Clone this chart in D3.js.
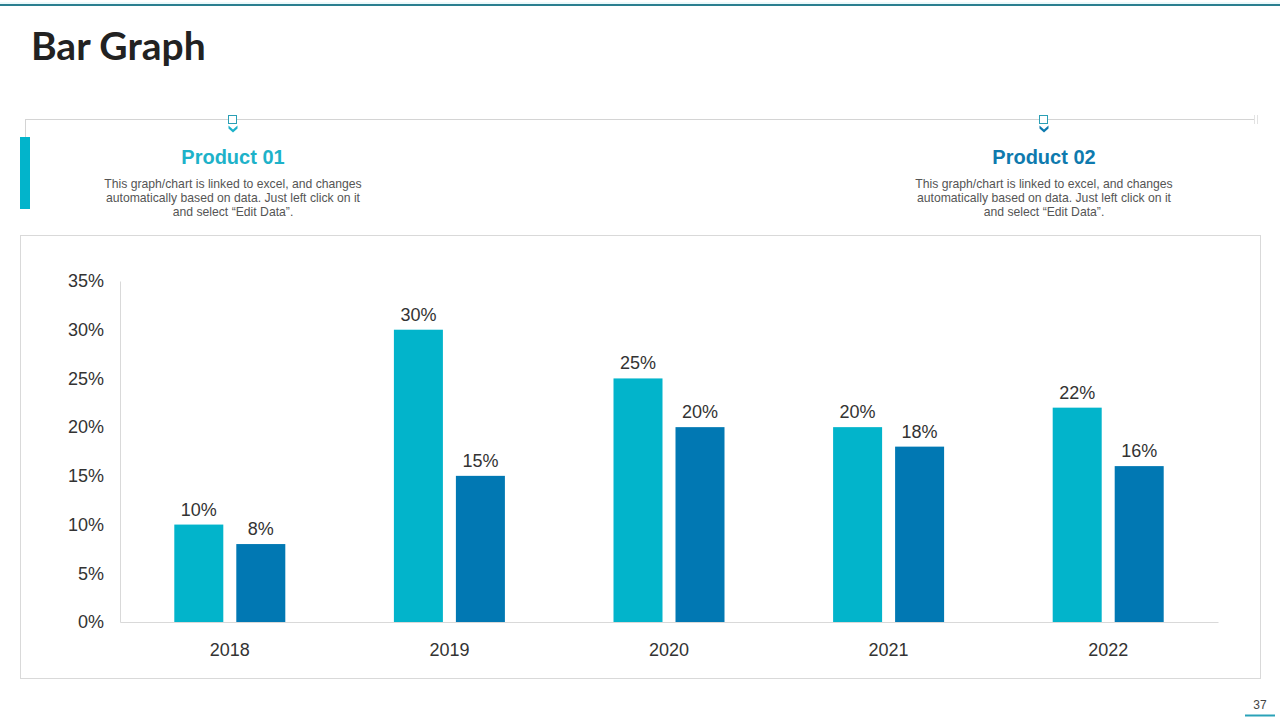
<!DOCTYPE html>
<html>
<head>
<meta charset="utf-8">
<script src="https://cdn.jsdelivr.net/npm/d3@7"></script>
<style>
  html, body { margin: 0; padding: 0; background: #fff; }
  svg { display: block; }
</style>
</head>
<body>
<svg id="chart" width="1280" height="720"></svg>
<script>
const categories = ["2018", "2019", "2020", "2021", "2022"];
const seriesNames = ["Product 01", "Product 02"];
const product01 = [10, 30, 25, 20, 22];
const product02 = [8, 15, 20, 18, 16];
const yTicks = [0, 5, 10, 15, 20, 25, 30, 35];
const colors = ["#02b4cb", "#0178b3"];
const titleColors = ["#1db2c9", "#0e7aae"];
const description = ["This graph/chart is linked to excel, and changes", "automatically based on data. Just left click on it", "and select \u201cEdit Data\u201d."];

const svg = d3.select("#chart");
const font = "'Liberation Sans', Arial, sans-serif";

// top decorative line
svg.append("line").attr("x1", 0).attr("x2", 1280).attr("y1", 5).attr("y2", 5)
  .attr("stroke", "#2b7f90").attr("stroke-width", 2);
svg.append("line").attr("x1", 0).attr("x2", 1280).attr("y1", 3).attr("y2", 3)
  .attr("stroke", "#d8f4f8").attr("stroke-width", 1);

// title
svg.append("text").attr("x", 31).attr("y", 60).text("Bar Graph")
  .attr("font-family", "Lato, 'DejaVu Sans', sans-serif").attr("font-weight", "bold")
  .attr("font-size", 39).attr("fill", "#222");

// timeline
svg.append("line").attr("x1", 25).attr("x2", 1255).attr("y1", 119.5).attr("y2", 119.5)
  .attr("stroke", "#d4d4d4").attr("stroke-width", 1);
svg.append("line").attr("x1", 25.5).attr("x2", 25.5).attr("y1", 119).attr("y2", 137)
  .attr("stroke", "#d4d4d4").attr("stroke-width", 1);
[1254.5, 1257.5].forEach(xx => svg.append("line").attr("x1", xx).attr("x2", xx)
  .attr("y1", 115).attr("y2", 124).attr("stroke", "#e2e2e2").attr("stroke-width", 1));
svg.append("rect").attr("x", 20).attr("y", 137).attr("width", 10).attr("height", 72)
  .attr("fill", "#02b4cb");

const headerX = [233, 1044];
seriesNames.forEach((name, i) => {
  const cx = headerX[i];
  svg.append("rect").attr("x", cx - 4.5).attr("y", 115.5).attr("width", 8).attr("height", 8)
    .attr("fill", "#fff").attr("stroke", "#2a9fb5").attr("stroke-width", 1);
  svg.append("path").attr("d", `M${cx-4.5},${125.5} L${cx},${129.5} L${cx+4.5},${125.5} L${cx+4.5},${128.5} L${cx},${132.5} L${cx-4.5},${128.5}Z`)
    .attr("fill", titleColors[i]);
  svg.append("text").attr("x", cx).attr("y", 164).attr("text-anchor", "middle")
    .attr("font-family", font).attr("font-weight", "bold").attr("font-size", 20)
    .attr("fill", titleColors[i]).text(name);
  description.forEach((line, j) => {
    svg.append("text").attr("x", cx).attr("y", 188 + j * 14).attr("text-anchor", "middle")
      .attr("font-family", font).attr("font-size", 12.2).attr("fill", "#555").text(line);
  });
});

// chart frame
svg.append("rect").attr("x", 20.5).attr("y", 235.5).attr("width", 1240).attr("height", 443)
  .attr("fill", "none").attr("stroke", "#d9d9d9").attr("stroke-width", 1);

// scales
const x = d3.scaleBand().domain(categories).range([120, 1218]);
const y = d3.scaleLinear().domain([0, 35]).range([622, 281]);
const barW = 49, gap = 13;

const yAxis = svg.append("g").attr("transform", "translate(120,0)")
  .call(d3.axisLeft(y).tickValues(yTicks).tickFormat(d => d + "%").tickSize(0).tickPadding(16));
yAxis.select(".domain").attr("stroke", "#d9d9d9");
yAxis.selectAll("text").attr("font-family", font).attr("font-size", 18).attr("fill", "#333");

const xAxis = svg.append("g").attr("transform", "translate(0,622)")
  .call(d3.axisBottom(x).tickSize(0).tickPadding(21));
xAxis.select(".domain").attr("stroke", "#d9d9d9");
xAxis.selectAll("text").attr("font-family", font).attr("font-size", 18).attr("fill", "#333");

const series = [product01, product02];
series.forEach((vals, s) => {
  const g = svg.append("g");
  const bx = (c) => x(c) + x.bandwidth() / 2 - (barW * 2 + gap) / 2 + s * (barW + gap);
  g.selectAll("rect").data(categories).join("rect")
    .attr("x", c => bx(c))
    .attr("y", (c, i) => y(vals[i]))
    .attr("width", barW)
    .attr("height", (c, i) => y(0) - y(vals[i]))
    .attr("fill", colors[s]);
  g.selectAll("text").data(categories).join("text")
    .attr("x", c => bx(c) + barW / 2)
    .attr("y", (c, i) => y(vals[i]) - 9)
    .attr("text-anchor", "middle")
    .attr("font-family", font).attr("font-size", 18).attr("fill", "#333")
    .text((c, i) => vals[i] + "%");
});

// page number
svg.append("text").attr("x", 1260).attr("y", 709).attr("text-anchor", "middle")
  .attr("font-family", font).attr("font-size", 12).attr("fill", "#444").text("37");
svg.append("line").attr("x1", 1245).attr("x2", 1275).attr("y1", 715.5).attr("y2", 715.5)
  .attr("stroke", "#2aa2b8").attr("stroke-width", 2);
</script>
</body>
</html>
